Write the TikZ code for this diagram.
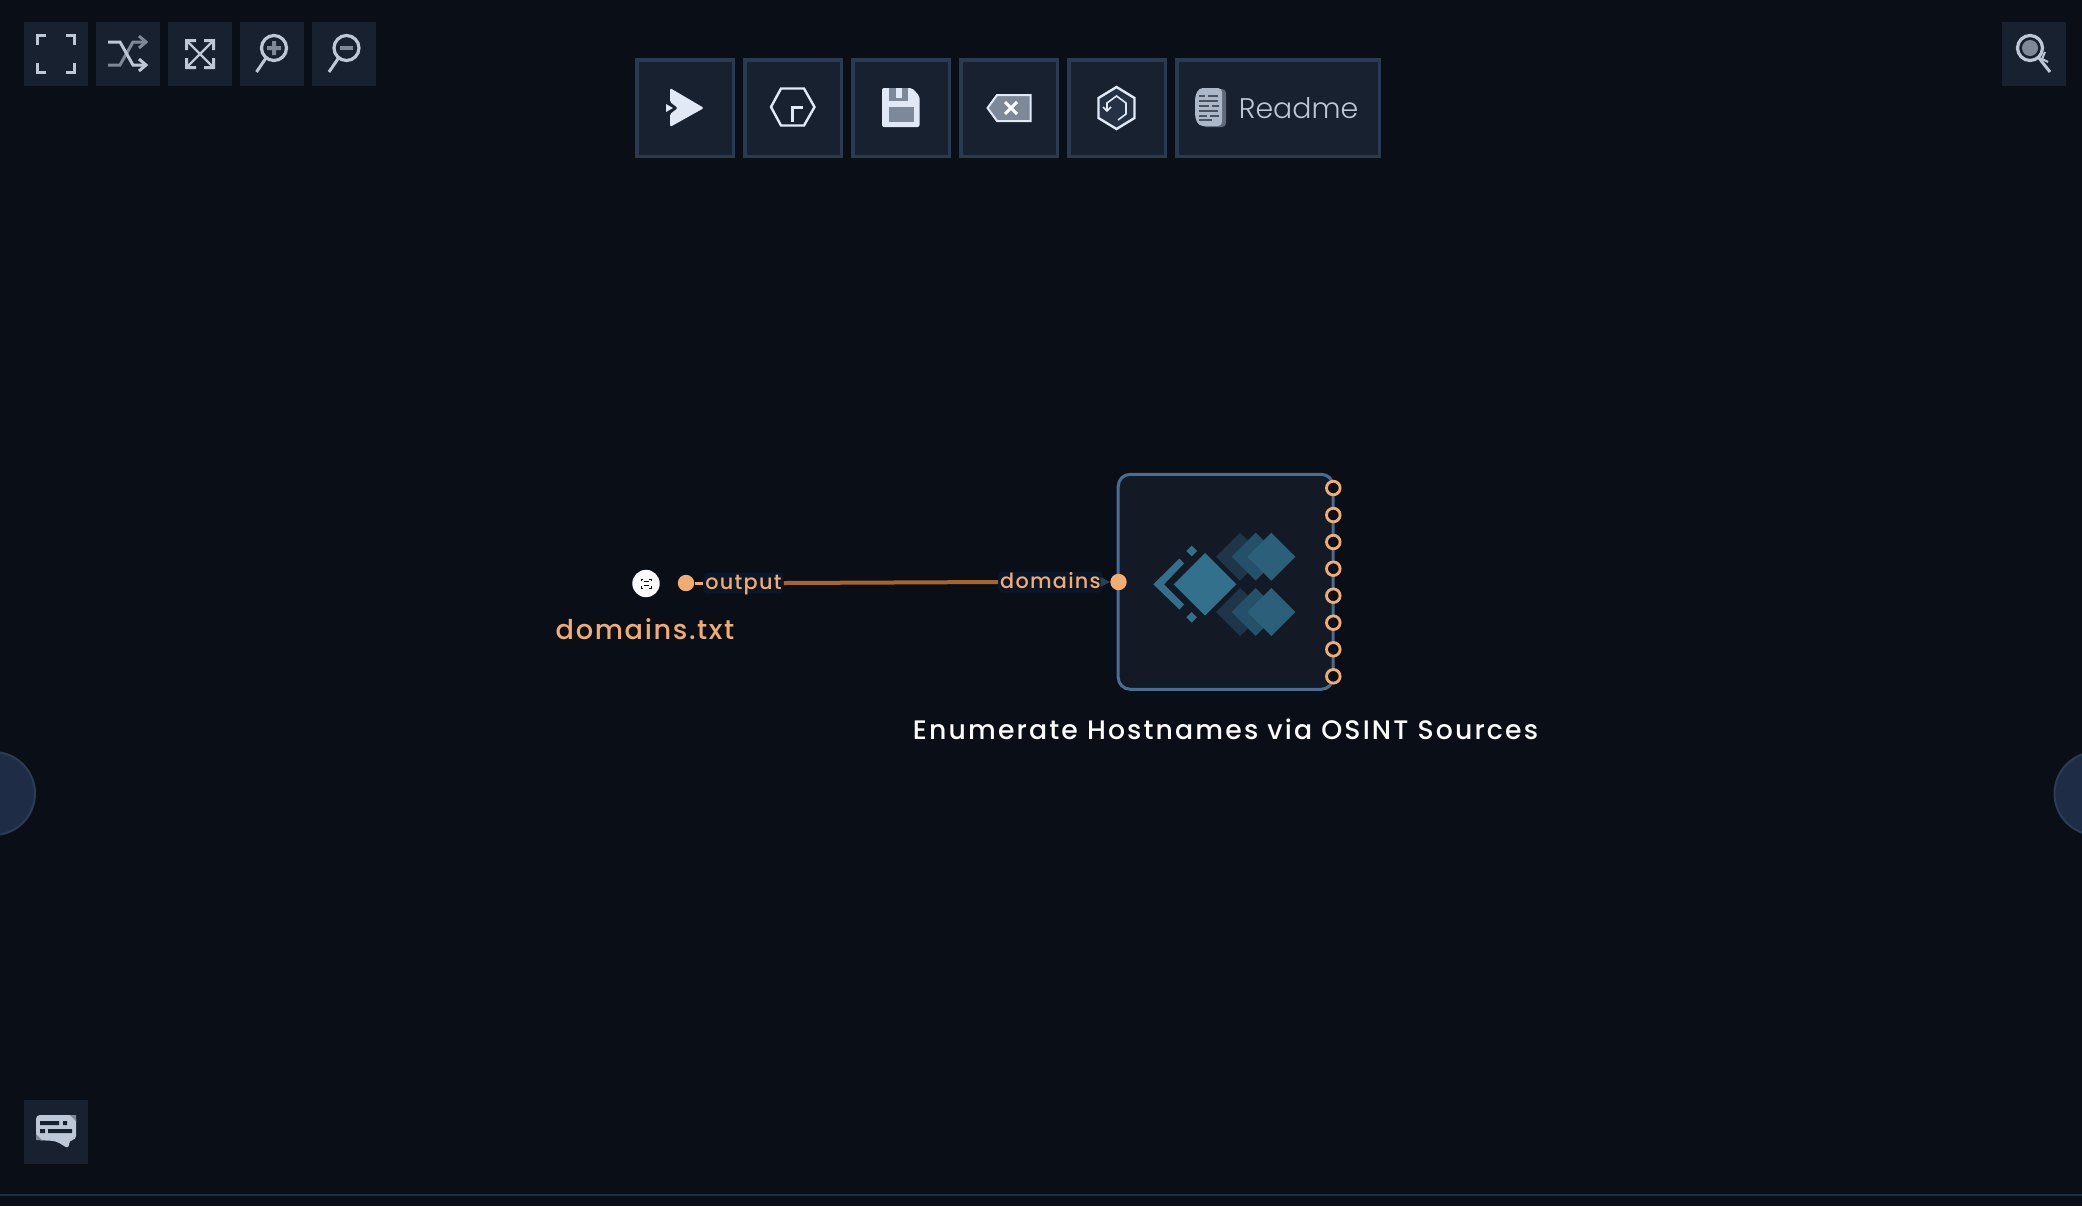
\documentclass[tikz,border=0pt]{standalone}
\usepackage{fontspec}
\setmainfont{Poppins}
\newfontfamily\lblfont[LetterSpace=6]{Poppins Medium}
\newfontfamily\ttlfont[LetterSpace=8]{Poppins Medium}
\newfontfamily\lightfont{Poppins Light}
\definecolor{bgc}{HTML}{0A0E17}
\definecolor{btn}{HTML}{18212F}
\definecolor{btnb}{HTML}{2A3A50}
\definecolor{ico}{HTML}{BCC8D8}
\definecolor{icog}{HTML}{7D8898}
\definecolor{icow}{HTML}{E0E9F5}
\definecolor{org}{HTML}{F0AD72}
\definecolor{edge}{HTML}{A8652A}
\definecolor{nodef}{HTML}{131A26}
\definecolor{nodeb}{HTML}{4A6D94}
\definecolor{halo}{HTML}{0C1626}
\definecolor{sidef}{HTML}{1E2D45}
\definecolor{sideb}{HTML}{2B3C55}
\definecolor{dmain}{HTML}{33708C}
\definecolor{dtop}{HTML}{2C5F7A}
\definecolor{dmid}{HTML}{24506A}
\definecolor{dlow}{HTML}{1F3549}
\tikzset{
  sq/.style={fill=btn,draw=none,minimum size=32pt,inner sep=0pt,outer sep=0pt},
  tb/.style={fill=btn,draw=btnb,line width=1.75pt,minimum height=48.25pt,minimum width=48.25pt,inner sep=0pt,outer sep=0.87pt},
  ln/.style={draw=ico,line width=1.3pt},
  lg/.style={draw=icog,line width=1.3pt},
  port/.style={circle,draw=org,fill=bgc,line width=1.4pt,minimum size=6.8pt,inner sep=0pt},
  dot/.style={circle,fill=org,minimum size=8.2pt,inner sep=0pt},
  lbl/.style={text=org,font=\lblfont\fontsize{10.4}{12}\selectfont,fill=halo,rounded corners=2pt,inner xsep=1pt,inner ysep=0.5pt,text height=8pt,text depth=1.5pt},
  side/.style={circle,fill=sidef,draw=sideb,line width=1pt,minimum size=41.5pt,inner sep=0pt},
  link/.style={draw=edge,line width=2pt}
}
\begin{document}
\begin{tikzpicture}[x=0.5pt,y=-0.5pt]
\useasboundingbox (0,0) rectangle (2082,1206);
\fill[bgc] (0,0) rectangle (2082,1206);
% bottom rule
\fill[btnb!70!bgc] (0,1194) rectangle (2082,1196);
% side circles
\node[side] (sl) at (-6.5,793.5) {};
\node[side] (sr) at (2096,793.5) {};
% top-left buttons
\node[sq] (b1) at (56,54) {};
\node[sq] (b2) at (128,54) {};
\node[sq] (b3) at (200,54) {};
\node[sq] (b4) at (272,54) {};
\node[sq] (b5) at (344,54) {};
\node[sq] (b6) at (2034,54) {};
\node[sq] (b7) at (56,1132) {};
% fullscreen corners
\draw[ln] (37.5,45)--(37.5,35.5)--(46,35.5);
\draw[ln] (66,35.5)--(74.5,35.5)--(74.5,45);
\draw[ln] (37.5,63)--(37.5,72.5)--(46,72.5);
\draw[ln] (66,72.5)--(74.5,72.5)--(74.5,63);
% shuffle
\draw[lg,line width=1.5pt] (108,65)--(120,65)--(133,42)--(145,42);
\draw[lg,line width=1.5pt] (139,36)--(146,42)--(139,48);
\draw[ln,line width=1.5pt] (108,42)--(120,42)--(133,65)--(145,65);
\draw[ln,line width=1.5pt] (139,59)--(146,65)--(139,71);
% expand
\draw[ln,line width=1.2pt] (187,41)--(213,67) (213,41)--(187,67);
\fill[ico] (185,39)--(196,39)--(196,42)--(188,42)--(188,50)--(185,50)--cycle;
\fill[ico] (215,39)--(204,39)--(204,42)--(212,42)--(212,50)--(215,50)--cycle;
\fill[ico] (185,69)--(196,69)--(196,66)--(188,66)--(188,58)--(185,58)--cycle;
\fill[ico] (215,69)--(204,69)--(204,66)--(212,66)--(212,58)--(215,58)--cycle;
% zoom in
\draw[ln,line width=1.6pt] (274,48) circle (12.5);
\draw[ln,line width=1.5pt] (266,58)--(256.5,72);
\fill[icog] (272,41)--(276,41)--(276,46)--(281,46)--(281,50)--(276,50)--(276,55)--(272,55)--(272,50)--(267,50)--(267,46)--(272,46)--cycle;
% zoom out
\draw[ln,line width=1.6pt] (346.5,48) circle (12.5);
\draw[ln,line width=1.5pt] (338.5,58)--(329,72);
\fill[icog] (340,46)--(353,46)--(353,50)--(340,50)--cycle;
% search right
\fill[icog] (2030,48) circle (8);
\draw[ln,line width=1.6pt] (2030,48) circle (12.5);
\draw[ln,line width=1.5pt] (2039,58)--(2050,72);
\draw[ln,line width=1pt] (2045,52)--(2042,59)--(2048,62);
% chat
\fill[ico,rounded corners=2pt] (36,1115)--(76,1115)--(76,1140)--(69,1140)--(69,1149)--(56,1141)--(36,1140)--cycle;
\fill[btn] (40,1121)--(59,1121)--(59,1125)--(40,1125)--cycle (63,1121)--(67,1121)--(67,1125)--(63,1125)--cycle
 (40,1129)--(45,1129)--(45,1133)--(40,1133)--cycle (48,1129)--(72,1129)--(72,1133)--(48,1133)--cycle;
\fill[icog] (70,1115)--(76,1115)--(76,1121)--cycle (36,1134)--(36,1140)--(42,1140)--cycle;
% toolbar
\node[tb] (t1) at (685,108) {};
\node[tb] (t2) at (793,108) {};
\node[tb] (t3) at (901,108) {};
\node[tb] (t4) at (1009,108) {};
\node[tb] (t5) at (1117,108) {};
\node[tb,minimum width=101.25pt] (t6) at (1278,108) {};
% play
\fill[icow,rounded corners=0.8pt] (670,88)--(704,108)--(670,127)--(670,114)--(678,108)--(670,102)--cycle;
\fill[icow] (666,104)--(673,108)--(666,112)--cycle;
% hexagon r
\draw[icow,line width=1.2pt] (771,107)--(781,88.5)--(804,88.5)--(814.5,107)--(804,125.5)--(781,125.5)--cycle;
\draw[icow,line width=1.5pt] (792.5,122)--(792.5,107)--(803,107);
% floppy
\fill[icow,rounded corners=1pt] (882,88)--(912,88)--(919.5,96)--(919.5,127)--(882,127)--cycle;
\fill[icog] (889,88)--(908,88)--(908,101)--(889,101)--cycle;
\fill[icow] (896,88)--(902,88)--(902,98)--(896,98)--cycle;
\fill[icog] (889,107)--(913.5,107)--(913.5,122)--(889,122)--cycle;
% backspace
\draw[icow,line width=1pt,fill=icog] (987.5,108)--(997,95)--(1030.5,95)--(1030.5,121)--(997,121)--cycle;
\draw[white,line width=1.5pt] (1005,102)--(1017,114) (1017,102)--(1005,114);
% shield
\draw[icow,line width=1.2pt,fill=btnb!70!btn] (1116.5,87)--(1134.5,98)--(1134.5,118)--(1116.5,129)--(1098.5,118)--(1098.5,98)--cycle;
\draw[icow,line width=0.8pt] (1107,110)--(1107,103)--(1116.5,96)--(1126,103)--(1126,114)--(1118,120);
\draw[icow,line width=0.8pt] (1103,107)--(1107,111)--(1111,107);
% doc
\fill[icog!70!btn,rounded corners=2pt] (1202,89)--(1226,89)--(1226,127)--(1202,127)--cycle;
\fill[ico!90!btn,rounded corners=2pt] (1199,88)--(1222,88)--(1222,126)--(1199,126)--(1195,118)--(1195,96)--cycle;
\draw[btn!70!ico,line width=0.7pt] (1199,96)--(1205,96) (1208,96)--(1218,96) (1199,101)--(1218,101) (1199,106)--(1209,106) (1212,106)--(1219,106) (1199,111)--(1218,111) (1199,116)--(1207,116) (1210,116)--(1219,116) (1199,120)--(1212,120);
% readme
\node[inner sep=0pt,anchor=center,text=ico,font=\lightfont\fontsize{14.2}{18}\selectfont] (rd) at (1298.5,108) {Readme};
% tool node
\node[draw=nodeb,fill=nodef,line width=1.5pt,rounded corners=6pt,minimum width=107.5pt,minimum height=107.5pt,inner sep=0pt] (tool) at (1225.7,581.8) {};
% diamonds
\fill[dlow] (1240,556.7) ++(-24,0)--++(24,-24)--++(24,24)--++(-24,24)--cycle;
\fill[dmid] (1255.7,556.7) ++(-24,0)--++(24,-24)--++(24,24)--++(-24,24)--cycle;
\fill[dtop] (1271.3,556.7) ++(-24,0)--++(24,-24)--++(24,24)--++(-24,24)--cycle;
\fill[dlow] (1240,612) ++(-24,0)--++(24,-24)--++(24,24)--++(-24,24)--cycle;
\fill[dmid] (1255.7,612) ++(-24,0)--++(24,-24)--++(24,24)--++(-24,24)--cycle;
\fill[dtop] (1271.3,612) ++(-24,0)--++(24,-24)--++(24,24)--++(-24,24)--cycle;
\fill[nodef] (1205,584.3) ++(-34.3,0)--++(34.3,-34.3)--++(34.3,34.3)--++(-34.3,34.3)--cycle;
\fill[dmain] (1205,584.3) ++(-31.3,0)--++(31.3,-31.3)--++(31.3,31.3)--++(-31.3,31.3)--cycle;
\fill[dmain] (1191.7,551) ++(-5.3,0)--++(5.3,-5.3)--++(5.3,5.3)--++(-5.3,5.3)--cycle;
\fill[dmain] (1191.7,617.3) ++(-5.3,0)--++(5.3,-5.3)--++(5.3,5.3)--++(-5.3,5.3)--cycle;
\fill[dmain] (1153.3,584.3)--(1179.5,558.5)--(1184,563.5)--(1164,584.3)--(1184,604.5)--(1179.5,609.5)--cycle;
% ports
\foreach \i/\yy in {1/488,2/515,3/542,4/568.7,5/595.7,6/622.7,7/649.3,8/676.3}
  \node[port] (p\i) at (1333.3,\yy) {};
% source
\node[circle,fill=white!95!ico,minimum size=13.7pt,inner sep=0pt] (src) at (646,583.5) {};
\draw[bgc,line width=0.5pt] (641,581)--(641,579)--(643,579) (649,579)--(651,579)--(651,581) (641,586)--(641,588)--(643,588) (649,588)--(651,588)--(651,586);
\draw[bgc,line width=0.5pt] (643.5,581.5)--(648.5,581.5) (643.5,585.5)--(648.5,585.5);
\node[dot] (out) at (686,583) {};
\node[dot] (in) at (1118.5,582) {};
\node[lbl,anchor=center] (ol) at (743.5,583) {output};
\node[lbl,anchor=center] (dl) at (1050.5,582) {domains};
\draw[link] (ol.east) -- (dl.west);
\draw[org,line width=1.5pt] (out) -- (ol.west);
\fill[dlow!80!nodeb] (1100.5,577)--(1110,582)--(1100.5,587)--cycle;
% labels
\node[text=org,font=\lblfont\fontsize{13.6}{16}\selectfont,inner sep=0pt] (sl2) at (645,629) {domains.txt};
\node[text=white!95!ico,font=\ttlfont\fontsize{13.37}{16}\selectfont,inner sep=0pt] (tl) at (1225.5,729) {Enumerate Hostnames via OSINT Sources};
\end{tikzpicture}
\end{document}
